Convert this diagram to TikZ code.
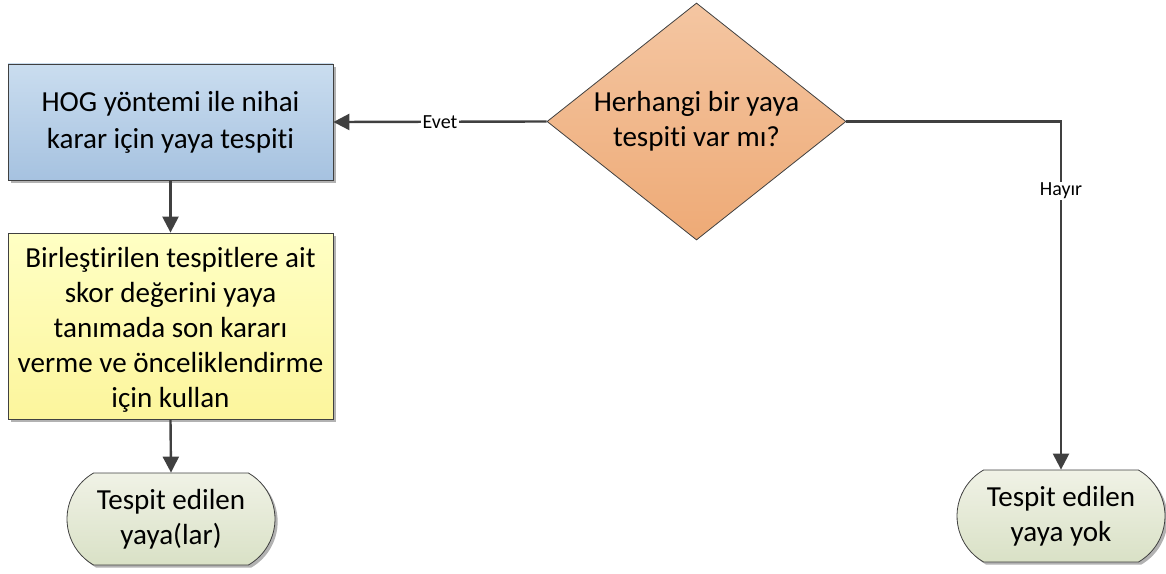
\documentclass[tikz,border=0pt]{standalone}
\usepackage{fontspec}
\setmainfont{Carlito}[RawFeature=-liga]
\usetikzlibrary{shapes.geometric,shapes.misc,arrows.meta,shadows}

\definecolor{edge}{HTML}{404040}
\definecolor{blueTop}{HTML}{CADDEF}
\definecolor{blueBot}{HTML}{A6C2E0}
\definecolor{orgTop}{HTML}{F4C6A2}
\definecolor{orgBot}{HTML}{EEAA76}
\definecolor{ylwTop}{HTML}{FFFFC4}
\definecolor{ylwBot}{HTML}{FCF59C}
\definecolor{trmTop}{HTML}{F0F2E6}
\definecolor{trmBot}{HTML}{D9E1C6}

\tikzset{
  softshadow/.style={drop shadow={shadow xshift=2pt,shadow yshift=-2pt,opacity=0.3,fill=black}},
  base/.style={draw=edge, line width=0.6pt, align=center, inner sep=0pt,
    font=\fontsize{21.8pt}{26.25pt}\selectfont, text=black},
  process/.style={base, rectangle, softshadow, minimum width=243.75pt},
  decision/.style={base, diamond, aspect=1.26, minimum width=224.25pt,
    minimum height=177.75pt, top color=orgTop, bottom color=orgBot},
  terminal/.style={base, rounded rectangle, rounded rectangle arc length=120,
    softshadow, minimum width=156pt, minimum height=69pt,
    top color=trmTop, bottom color=trmBot},
  conn/.style={draw=edge, line width=1.8pt, -{Triangle[length=12pt,width=12pt]}},
  lbl/.style={fill=white, inner sep=1pt, font=\fontsize{15pt}{17pt}\selectfont, text=black}
}

\begin{document}
\begin{tikzpicture}[x=0.75pt,y=-0.75pt]
  \useasboundingbox (0,0) rectangle (1166,574);

  % flow steps
  \node[process, minimum height=87pt, top color=blueTop, bottom color=blueBot,
        font=\fontsize{21.8pt}{27.75pt}\selectfont]
    (hog) at (170.5,122) {HOG yöntemi ile nihai\\karar için yaya tespiti};
  \node[decision] (dec) at (696.5,121.5) {Herhangi bir yaya\\tespiti var mı?};
  \node[process, minimum height=139.5pt, top color=ylwTop, bottom color=ylwBot]
    (comb) at (170.5,326) {\rule{0pt}{21pt}Birleştirilen tespitlere ait\\skor değerini yaya\\tanımada son kararı\\verme ve önceliklendirme\\için kullan};
  \node[terminal] (found) at (171,519) {Tespit edilen\\yaya(lar)};
  \node[terminal] (none) at (1061,516) {Tespit edilen\\yaya yok};

  % connectors
  \draw[conn] (dec.west) -- node[lbl]{Evet} (hog.east);
  \draw[conn] (dec.east) -| node[lbl, pos=0.6]{Hayır} (none.north);
  \draw[conn] (hog.south) -- (comb.north);
  \draw[conn] (comb.south) -- (found.north);
\end{tikzpicture}
\end{document}
